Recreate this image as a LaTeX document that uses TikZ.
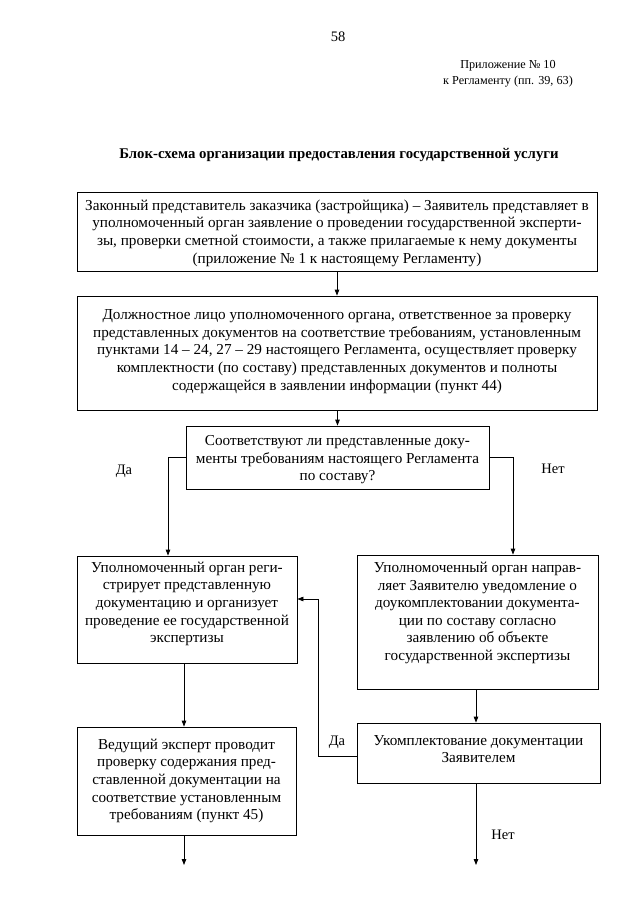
\documentclass[tikz,border=0pt]{standalone}
\usepackage{fontspec}
\setmainfont{Liberation Serif}
\usetikzlibrary{arrows.meta}
\begin{document}
\begin{tikzpicture}[x=1pt,y=-1pt,
  box/.style={draw, line width=0.8pt, inner sep=0pt},
  txt/.style={inner sep=0pt, align=center, font=\fontsize{15.2}{17.6}\selectfont},
  lbl/.style={inner sep=0pt, font=\fontsize{14.5}{16}\selectfont},
  arr/.style={-{Triangle[length=6pt,width=4.5pt]}, line width=0.8pt}]
\useasboundingbox (0,0) rectangle (640,905);
\fill[white] (0,0) rectangle (640,905);

\node[lbl] (pg) at (338,37) {58};
\node[lbl, align=center, font=\fontsize{12.2}{16}\selectfont] (app) at (508,74) {Приложение № 10\\к Регламенту (пп. 39, 63)};
\node[lbl, font=\bfseries\fontsize{14.8}{16}\selectfont] (title) at (339,155) {Блок-схема организации предоставления государственной услуги};

\node[box, minimum width=520pt, minimum height=79pt] (b1) at (337,231.5) {};
\node[txt] (t1) at (337,233) {Законный представитель заказчика (застройщика) – Заявитель представляет в\\уполномоченный орган заявление о проведении государственной эксперти-\\зы, проверки сметной стоимости, а также прилагаемые к нему документы\\(приложение № 1 к настоящему Регламенту)};

\node[box, minimum width=520pt, minimum height=114pt] (b2) at (337,353) {};
\node[txt] (t2) at (337,351.5) {Должностное лицо уполномоченного органа, ответственное за проверку\\представленных документов на соответствие требованиям, установленным\\пунктами 14 – 24, 27 – 29 настоящего Регламента, осуществляет проверку\\комплектности (по составу) представленных документов и полноты\\содержащейся в заявлении информации (пункт 44)};

\node[box, minimum width=303pt, minimum height=63pt] (b3) at (337.5,457.5) {};
\node[txt] (t3) at (337.5,460) {Соответствуют ли представленные доку-\\менты требованиям настоящего Регламента\\по составу?};

\node[box, minimum width=220pt, minimum height=107pt] (b4) at (187,609.5) {};
\node[txt] (t4) at (187,604) {Уполномоченный орган реги-\\стрирует представленную\\документацию и организует\\проведение ее государственной\\экспертизы};

\node[box, minimum width=241pt, minimum height=134pt] (b5) at (477.5,622) {};
\node[txt] (t5) at (477.5,613) {Уполномоченный орган направ-\\ляет Заявителю уведомление о\\доукомплектовании документа-\\ции по составу согласно\\заявлению об объекте\\государственной экспертизы};

\node[box, minimum width=219pt, minimum height=108pt] (b6) at (186.5,781) {};
\node[txt] (t6) at (186.5,781) {Ведущий эксперт проводит\\проверку содержания пред-\\ставленной документации на\\соответствие установленным\\требованиям (пункт 45)};

\node[box, minimum width=243pt, minimum height=60pt] (b7) at (478.5,753) {};
\node[txt] (t7) at (478.5,749) {Укомплектование документации\\Заявителем};

\node[lbl] (da1) at (124,471) {Да};
\node[lbl] (net1) at (553,469) {Нет};
\node[lbl] (da2) at (337,742) {Да};
\node[lbl] (net2) at (503,835) {Нет};

\draw[arr] (b1.south) -- (b2.north);
\draw[arr] (b2.south -| b3.north) -- (b3.north);
\draw[arr] (b3.west) -| ([xshift=-19pt]b4.north);
\draw[arr] (b3.east) -| ([xshift=35.5pt]b5.north);
\draw[arr] ([xshift=-3pt]b4.south) -- ([xshift=-3pt]b4.south |- b6.north);
\draw[arr] ([xshift=-1.5pt]b5.south) -- ([xshift=-1.5pt]b5.south |- b7.north);
\coordinate (r) at (318,599);
\draw[arr] ([yshift=-3pt]b7.west) -| (r) -- (r -| b4.east);
\coordinate (e6) at (184,865);
\coordinate (e7) at (476,865);
\draw[arr] (b6.south -| e6) -- (e6);
\draw[arr] (b7.south -| e7) -- (e7);
\end{tikzpicture}
\end{document}
